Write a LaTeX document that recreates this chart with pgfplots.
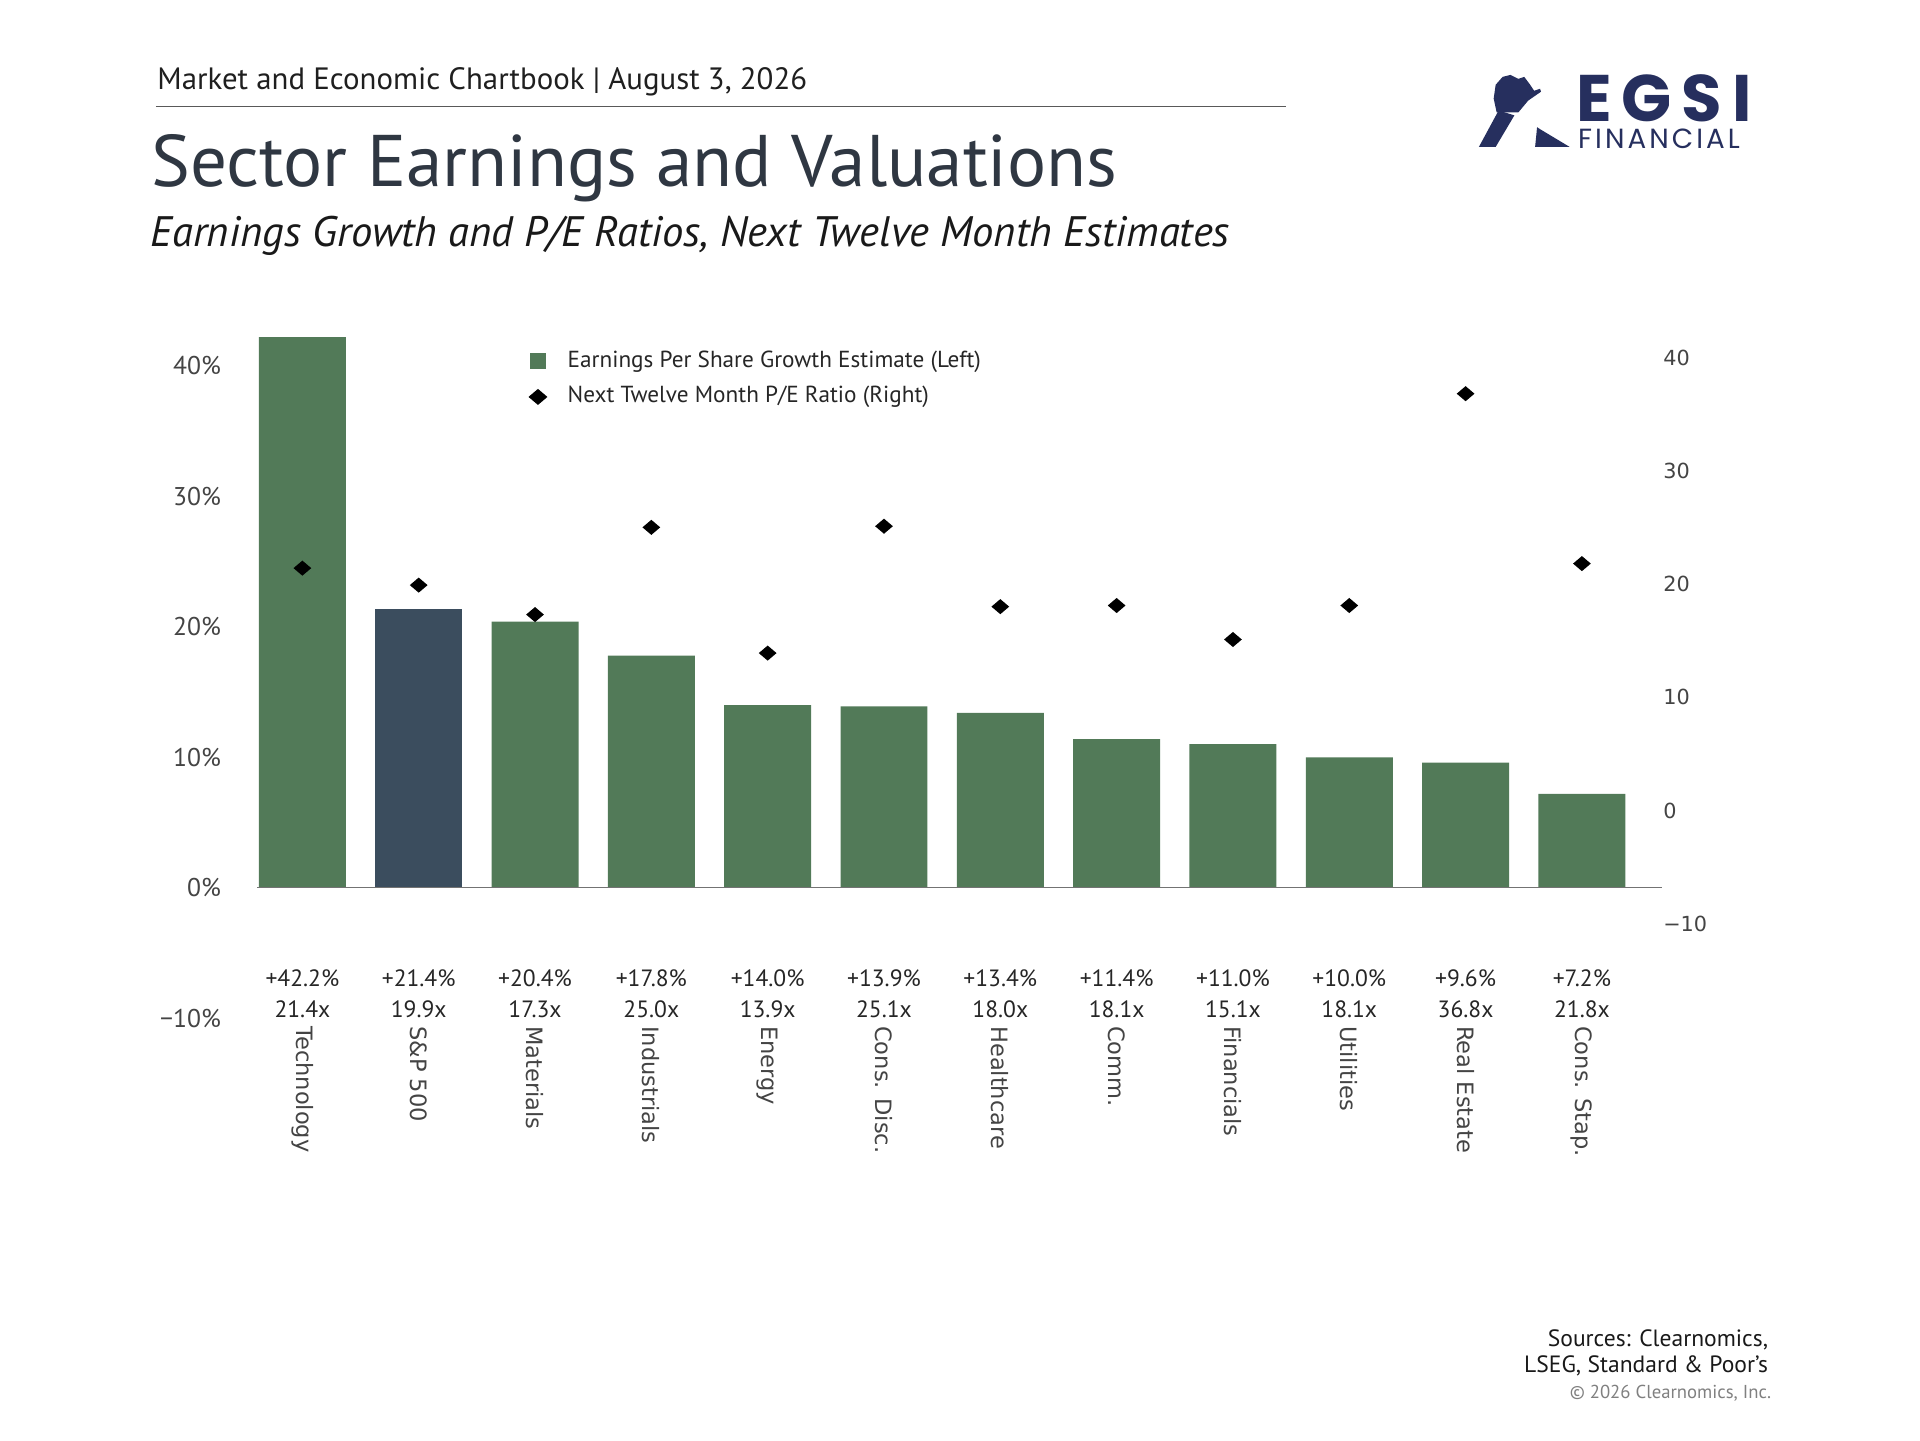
\documentclass[border=0pt]{standalone}
\usepackage{pgfplots}
\pgfplotsset{compat=1.18}
\usepackage{fontspec}
\setmainfont{PT Sans}
\newfontfamily\dejavu{DejaVu Sans}
\newfontfamily\logofont{Poppins}
\definecolor{barg}{HTML}{527A58}
\definecolor{bars}{HTML}{3B4D5E}
\definecolor{titlec}{HTML}{2F3742}
\definecolor{navy}{HTML}{262F5E}
\definecolor{tickc}{HTML}{444444}
\pgfdeclareplotmark{wdiamond}{%
 \pgfpathmoveto{\pgfqpoint{\pgfplotmarksize}{0pt}}%
 \pgfpathlineto{\pgfqpoint{0pt}{0.85\pgfplotmarksize}}%
 \pgfpathlineto{\pgfqpoint{-\pgfplotmarksize}{0pt}}%
 \pgfpathlineto{\pgfqpoint{0pt}{-0.85\pgfplotmarksize}}%
 \pgfpathclose\pgfusepathqfill}
\begin{document}
\begin{tikzpicture}
\path[use as bounding box] (0,0) rectangle (19.474,-14.606);
% header
\node[anchor=base west, inner sep=0pt, font=\fontsize{8.9}{10}\selectfont, text=black!88] at (1.59,-0.91) {Market and Economic Chartbook | August 3, 2026};
\draw[black!65, line width=0.12mm] (1.58,-1.08) -- (13.04,-1.08);
\node[anchor=base west, inner sep=0pt, font=\fontsize{21.1}{25}\selectfont, text=titlec] at (1.53,-1.89) {Sector Earnings and Valuations};
\node[anchor=base west, inner sep=0pt, font=\fontsize{12.3}{14}\selectfont\itshape, text=black!90] at (1.52,-2.50) {Earnings Growth and P/E Ratios, Next Twelve Month Estimates};
% logo
\fill[navy] (15.00,-1.49) -- (15.17,-1.49) -- (15.36,-1.17) -- (15.20,-1.12) -- cycle;
\fill[navy] (15.18,-1.14) -- (15.15,-1.00) -- (15.17,-0.86) -- (15.24,-0.78) -- (15.32,-0.76) -- (15.40,-0.80) -- (15.46,-0.78) -- (15.52,-0.86) -- (15.56,-0.92) -- (15.62,-0.90) -- (15.63,-0.93) -- (15.50,-1.02) -- (15.40,-1.14) -- cycle;
\fill[navy] (15.59,-1.29) -- (15.62,-1.31) -- (15.92,-1.49) -- (15.57,-1.49) -- cycle;
\node[anchor=base west, inner sep=0pt, text=navy, font=\logofont\bfseries\fontsize{19}{20}\selectfont\addfontfeature{LetterSpace=15}] at (15.98,-1.235) {EGSI};
\node[anchor=base west, inner sep=0pt, text=navy, font=\logofont\fontsize{8}{9}\selectfont\addfontfeature{LetterSpace=11}] at (16.00,-1.51) {FINANCIAL};
% left axis: bars
\begin{axis}[
  at={(2.608cm,-10.327cm)}, anchor=south west,
  width=14.245cm, height=7.027cm, scale only axis,
  xmin=-0.389, xmax=11.685, ymin=-10, ymax=43.11,
  axis line style={draw=none},
  major tick length=0pt,
  ybar, bar width=8.82mm, bar shift=0pt,
  clip=false,
  ytick={-10,0,10,20,30,40},
  yticklabels={−10\%,0\%,10\%,20\%,30\%,40\%},
  yticklabel style={font=\fontsize{7.4}{8}\selectfont, text=tickc, inner sep=0pt, anchor=east, xshift=-3.6mm},
  xtick={0,...,11},
  xticklabels={{+42.2\%\\21.4x},{+21.4\%\\19.9x},{+20.4\%\\17.3x},{+17.8\%\\25.0x},{+14.0\%\\13.9x},{+13.9\%\\25.1x},{+13.4\%\\18.0x},{+11.4\%\\18.1x},{+11.0\%\\15.1x},{+10.0\%\\18.1x},{+9.6\%\\36.8x},{+7.2\%\\21.8x}},
  xticklabel style={font=\fontsize{6.8}{8.8}\selectfont, text=black!85, align=center, anchor=north, inner sep=0pt, yshift=4.97mm},
]
\addplot[fill=barg, draw=none] coordinates {(0,42.2) (2,20.4) (3,17.8) (4,14.0) (5,13.9) (6,13.4) (7,11.4) (8,11.0) (9,10.0) (10,9.6) (11,7.2)};
\addplot[fill=bars, draw=none] coordinates {(1,21.4)};
\draw[black!55, line width=0.15mm] (axis cs:-0.389,0) -- (axis cs:11.685,0);
\end{axis}
% right axis: P/E
\begin{axis}[
  at={(2.608cm,-10.327cm)}, anchor=south west,
  width=14.245cm, height=7.027cm, scale only axis,
  xmin=-0.389, xmax=11.685, ymin=-18.33, ymax=42.83,
  axis line style={draw=none},
  major tick length=0pt,
  clip=false,
  ytick={-10,0,10,20,30,40},
  yticklabels={−10,0,10,20,30,40},
  ytick pos=right, yticklabel pos=right,
  yticklabel style={font=\dejavu\fontsize{6}{7}\selectfont, text=tickc, inner sep=0pt, anchor=west, xshift=0.1mm},
  xtick={0,...,11},
  xticklabels={Technology,S\&P 500,Materials,Industrials,Energy,Cons. Disc.,Healthcare,Comm.,Financials,Utilities,Real Estate,Cons. Stap.},
  xticklabel style={font=\dejavu\fontsize{6.5}{7}\selectfont, text=tickc, rotate=-90, anchor=west, inner sep=0pt, xshift=0.75mm},
  legend style={at={(0.1935,0.9637)}, anchor=north west, draw=none, fill=none, inner sep=0pt, outer sep=0pt, row sep=1.4mm, font=\fontsize{6.7}{8}\selectfont, nodes={inner sep=0pt, text=black!85}, /tikz/every odd column/.append style={column sep=2.1mm}},
  legend cell align=left,
]
\addlegendimage{legend image code/.code={\fill[barg] (0,-0.75mm) rectangle (1.5mm,0.75mm);}}
\addlegendentry{Earnings Per Share Growth Estimate (Left)}
\addplot[only marks, mark=wdiamond, mark size=0.9mm, black,
  legend image code/.code={\fill[black] (1.6mm,0) -- (0.75mm,0.72mm) -- (-0.1mm,0) -- (0.75mm,-0.72mm) -- cycle;}]
  coordinates {(0,21.4) (1,19.9) (2,17.3) (3,25.0) (4,13.9) (5,25.1) (6,18.0) (7,18.1) (8,15.1) (9,18.1) (10,36.8) (11,21.8)};
\addlegendentry{Next Twelve Month P/E Ratio (Right)}
\end{axis}
% sources
\node[anchor=base east, inner sep=0pt, font=\fontsize{6.8}{7.6}\selectfont, text=black!90] at (17.94,-13.66) {Sources: Clearnomics,};
\node[anchor=base east, inner sep=0pt, font=\fontsize{6.8}{7.6}\selectfont, text=black!90] at (17.94,-13.92) {LSEG, Standard \& Poor’s};
\node[anchor=base east, inner sep=0pt, font=\fontsize{5.4}{6}\selectfont, text=black!50] at (17.97,-14.18) {© 2026 Clearnomics, Inc.};
\end{tikzpicture}
\end{document}
